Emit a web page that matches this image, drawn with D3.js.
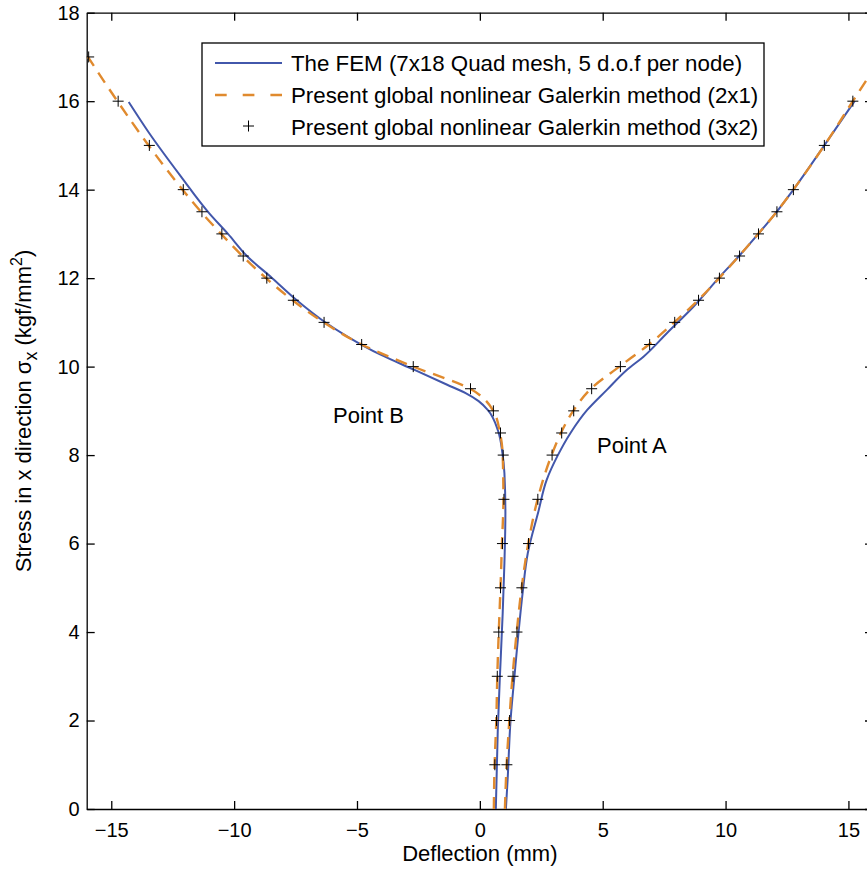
<!DOCTYPE html>
<html>
<head>
<meta charset="utf-8">
<script src="https://cdn.jsdelivr.net/npm/d3@7"></script>
<style>
  body { margin: 0; background: white; }
  text { font-family: "Liberation Sans", Arial, Helvetica, sans-serif; fill: #000; }
</style>
</head>
<body>
<script>
// ---- data ----
const xTicks = [-15, -10, -5, 0, 5, 10, 15];
const yTicks = [0, 2, 4, 6, 8, 10, 12, 14, 16, 18];

// FEM (7x18 Quad mesh) - Point B branch
const femB_y = [0, 1.79, 2.92, 4.43, 5.56, 6.69, 7.59, 8.04, 8.55, 9.02, 9.22, 9.40, 9.59, 9.93, 10.27, 10.68, 11.02, 11.5, 12, 12.49, 13, 13.47, 14.30, 15.28, 15.98];
const femB_x = [0.65, 0.73, 0.81, 0.93, 1.00, 1.04, 1.00, 0.92, 0.74, 0.32, -0.05, -0.58, -1.33, -2.68, -4.04, -5.39, -6.34, -7.45, -8.45, -9.46, -10.25, -11.02, -12.17, -13.46, -14.29];
// FEM - Point A branch
const femA_y = [0, 0.66, 2.01, 3.07, 3.97, 4.88, 5.78, 6.72, 7.44, 7.97, 8.50, 9.02, 9.48, 9.93, 10.23, 10.76, 11.36, 12.04, 12.5, 13, 13.5, 14, 15, 16];
const femA_x = [1.06, 1.13, 1.25, 1.42, 1.57, 1.74, 1.95, 2.38, 2.72, 3.15, 3.69, 4.37, 5.18, 5.99, 6.67, 7.62, 8.70, 9.78, 10.55, 11.33, 12.08, 12.76, 14.02, 15.25];

// Global nonlinear Galerkin (2x1) - dashed
const g21B_y = [0, 1, 2, 3, 4, 5, 6, 7, 8, 8.5, 9, 9.5, 10, 10.5, 11, 11.5, 12, 12.5, 13, 13.5, 14, 15, 16, 17];
const g21B_x = [0.57, 0.60, 0.67, 0.71, 0.77, 0.84, 0.90, 0.96, 0.93, 0.82, 0.55, -0.40, -2.71, -4.81, -6.36, -7.62, -8.70, -9.66, -10.53, -11.35, -12.10, -13.48, -14.75, -15.95];
const g21A_y = [0, 1, 2, 3, 4, 5, 6, 7, 8, 8.5, 9, 9.5, 10, 10.5, 11, 11.5, 12, 12.5, 13, 13.5, 14, 15, 16, 17];
const g21A_x = [1.02, 1.09, 1.20, 1.33, 1.50, 1.70, 1.97, 2.35, 2.92, 3.30, 3.80, 4.52, 5.68, 6.88, 7.91, 8.88, 9.74, 10.55, 11.33, 12.08, 12.76, 14.02, 15.18, 16.35];

// Global nonlinear Galerkin (3x2) - markers
const g32B_y = [1, 2, 3, 4, 5, 6, 7, 8, 8.5, 9, 9.5, 10, 10.5, 11, 11.5, 12, 12.5, 13, 13.5, 14, 15, 16, 17];
const g32B_x = [0.61, 0.68, 0.71, 0.77, 0.84, 0.92, 0.98, 0.95, 0.84, 0.55, -0.38, -2.71, -4.81, -6.34, -7.59, -8.67, -9.63, -10.50, -11.31, -12.07, -13.45, -14.72, -15.92];
const g32A_y = [1, 2, 3, 4, 5, 6, 7, 8, 8.5, 9, 9.5, 10, 10.5, 11, 11.5, 12, 12.5, 13, 13.5, 14, 15, 16];
const g32A_x = [1.10, 1.21, 1.35, 1.51, 1.71, 1.98, 2.36, 2.94, 3.33, 3.82, 4.55, 5.72, 6.91, 7.93, 8.90, 9.75, 10.57, 11.34, 12.09, 12.76, 14.02, 15.18];

const legendLabels = [
  "The FEM (7x18 Quad mesh, 5 d.o.f per node)",
  "Present global nonlinear Galerkin method (2x1)",
  "Present global nonlinear Galerkin method (3x2)"
];

const blue = "#4257ab";
const orange = "#e08a2e";

// ---- layout ----
const W = 867, H = 870;
const mLeft = 86.7, mRight = 873, mTop = 12.7, mBottom = 809;

const svg = d3.select("body").append("svg")
    .attr("width", W)
    .attr("height", H);

const x = d3.scaleLinear().domain([-16, 16]).range([mLeft, mRight]);
const y = d3.scaleLinear().domain([0, 18]).range([mBottom, mTop]);

svg.append("clipPath").attr("id", "plotclip")
  .append("rect")
    .attr("x", mLeft).attr("y", mTop)
    .attr("width", mRight - mLeft).attr("height", mBottom - mTop);

// axes (box with inward ticks)
const fmt = d3.format("");
svg.append("g")
    .attr("transform", `translate(0,${mBottom})`)
    .call(d3.axisBottom(x).tickValues(xTicks).tickSizeInner(-8).tickSizeOuter(0).tickPadding(14).tickFormat(fmt))
    .call(g => g.selectAll("text").attr("font-size", 20).attr("dy", "0.71em"));
svg.append("g")
    .attr("transform", `translate(0,${mTop})`)
    .call(d3.axisTop(x).tickValues(xTicks).tickSizeInner(-8).tickSizeOuter(0).tickFormat(""));
svg.append("g")
    .attr("transform", `translate(${mLeft},0)`)
    .call(d3.axisLeft(y).tickValues(yTicks).tickSizeInner(-8).tickSizeOuter(0).tickPadding(7).tickFormat(fmt))
    .call(g => g.selectAll("text").attr("font-size", 20));
svg.append("g")
    .attr("transform", `translate(${mRight},0)`)
    .call(d3.axisRight(y).tickValues(yTicks).tickSizeInner(-8).tickSizeOuter(0).tickFormat(""));
svg.selectAll(".domain, .tick line").attr("stroke", "#000").attr("stroke-width", 1.3);
svg.selectAll(".tick text").attr("font-family", "Liberation Sans, Arial, sans-serif").attr("fill", "#000");

// lines
const line = d3.line()
    .x(d => x(d[0]))
    .y(d => y(d[1]))
    .curve(d3.curveMonotoneY);

const plot = svg.append("g").attr("clip-path", "url(#plotclip)");

function zip(xs, ys) { return xs.map((v, i) => [v, ys[i]]); }

[zip(femB_x, femB_y), zip(femA_x, femA_y)].forEach(pts => {
  plot.append("path")
    .attr("d", line(pts))
    .attr("fill", "none")
    .attr("stroke", blue)
    .attr("stroke-width", 2);
});

[zip(g21B_x, g21B_y), zip(g21A_x, g21A_y)].forEach(pts => {
  plot.append("path")
    .attr("d", line(pts))
    .attr("fill", "none")
    .attr("stroke", orange)
    .attr("stroke-width", 2.4)
    .attr("stroke-dasharray", "12,8");
});

function plusPath(cx, cy, s) {
  return `M${cx - s},${cy}H${cx + s}M${cx},${cy - s}V${cy + s}`;
}
[zip(g32B_x, g32B_y), zip(g32A_x, g32A_y)].forEach(pts => {
  plot.append("path")
    .attr("d", pts.map(d => plusPath(x(d[0]), y(d[1]), 5.5)).join(""))
    .attr("fill", "none")
    .attr("stroke", "#000")
    .attr("stroke-width", 1);
});

// annotations
svg.append("text").attr("x", 333).attr("y", 423).attr("font-size", 22).text("Point B");
svg.append("text").attr("x", 597).attr("y", 453).attr("font-size", 22).text("Point A");

// axis labels
svg.append("text")
    .attr("x", (mLeft + mRight) / 2).attr("y", 861)
    .attr("text-anchor", "middle").attr("font-size", 22)
    .text("Deflection (mm)");

const yl = svg.append("text")
    .attr("transform", "translate(31,411) rotate(-90)")
    .attr("text-anchor", "middle").attr("font-size", 22);
yl.append("tspan").text("Stress in x direction σ");
yl.append("tspan").attr("dy", 6).attr("font-size", 18).text("x");
yl.append("tspan").attr("dy", -6).text(" (kgf/mm");
yl.append("tspan").attr("dy", -9).attr("font-size", 16).text("2");
yl.append("tspan").attr("dy", 9).text(")");

// legend
const lg = svg.append("g");
lg.append("rect")
    .attr("x", 202).attr("y", 43).attr("width", 562).attr("height", 103)
    .attr("fill", "white").attr("stroke", "#000").attr("stroke-width", 1.3);
const rowY = [63, 95, 127];
lg.append("line").attr("x1", 215).attr("x2", 282).attr("y1", rowY[0]).attr("y2", rowY[0])
    .attr("stroke", blue).attr("stroke-width", 2);
lg.append("line").attr("x1", 215).attr("x2", 282).attr("y1", rowY[1]).attr("y2", rowY[1])
    .attr("stroke", orange).attr("stroke-width", 2.4).attr("stroke-dasharray", "11.7,16");
lg.append("path").attr("d", plusPath(248.5, rowY[2] - 1, 5.5))
    .attr("stroke", "#000").attr("stroke-width", 1);
legendLabels.forEach((t, i) => {
  lg.append("text").attr("x", 291).attr("y", rowY[i] + 8).attr("font-size", 22.3).text(t);
});
</script>
</body>
</html>
